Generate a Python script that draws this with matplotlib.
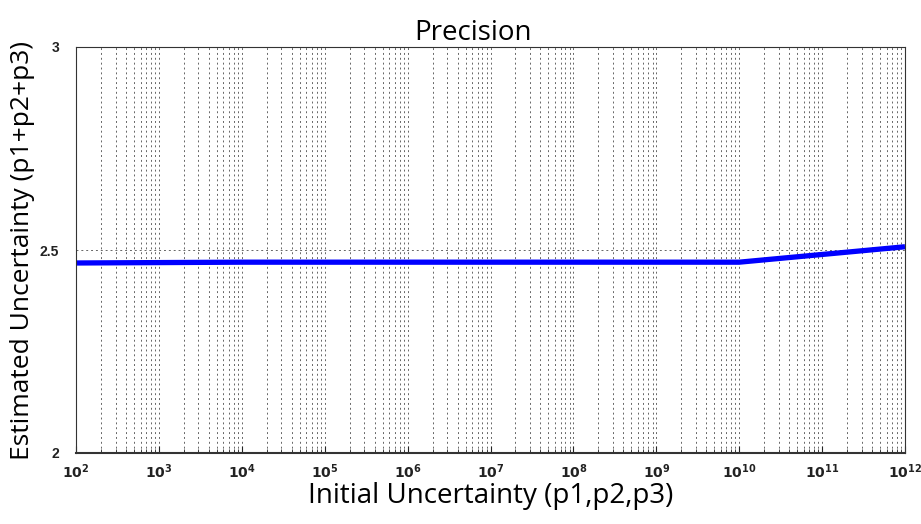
import matplotlib
matplotlib.use("Agg")
import matplotlib.pyplot as plt
import numpy as np

# initial uncertainty (x) and estimated uncertainty sum (y), read per decade
initial_unc = [1e2, 1e3, 1e4, 1e5, 1e6, 1e7, 1e8, 1e9, 1e10, 1e11, 1e12]
estimated_unc = [2.468, 2.469, 2.470, 2.470, 2.470, 2.470, 2.470, 2.470, 2.470, 2.489, 2.508]
y_ticks = [2, 2.5, 3]

fig = plt.figure(figsize=(9.21, 5.24), dpi=100)
ax = fig.add_axes([76 / 921, 1 - 453 / 524, (905 - 76) / 921, (453 - 47) / 524])

ax.plot(initial_unc, estimated_unc, color="#0000ff", linewidth=3.8, solid_capstyle="butt")
ax.set_xscale("log")
ax.set_xlim(1e2, 1e12)
ax.set_ylim(2, 3)
ax.set_yticks(y_ticks)
ax.set_yticklabels(["2", "2.5", "3"])
ax.set_xticks(initial_unc)
ax.set_xticklabels([f"$\\mathbf{{10^{{{int(np.log10(v))}}}}}$" for v in initial_unc])

ax.xaxis.set_minor_locator(matplotlib.ticker.LogLocator(base=10, subs=np.arange(2, 10), numticks=100))
ax.xaxis.set_minor_formatter(matplotlib.ticker.NullFormatter())
ax.grid(True, which="both", axis="x", linestyle=(0, (2, 3)), color="#666666", linewidth=0.7)
ax.grid(True, which="major", axis="y", linestyle=(0, (2, 3)), color="#666666", linewidth=0.7)
ax.tick_params(axis="both", which="both", direction="in", labelsize=10, colors="#222222")
ax.tick_params(axis="x", which="major", length=5, pad=7)
ax.tick_params(axis="x", which="minor", length=3)
ax.tick_params(axis="y", which="major", length=0, pad=12)
for lbl in ax.get_yticklabels():
    lbl.set_fontweight("bold")
    lbl.set_family("Liberation Sans")
for s in ax.spines.values():
    s.set_color("#333333")
    s.set_linewidth(0.8)
ax.spines["bottom"].set_linewidth(1.5)

ax.set_title("Precision", fontsize=20, family="Open Sans", pad=2, x=(473 - 76) / 829)
ax.set_xlabel("Initial Uncertainty (p1,p2,p3)", fontsize=20, family="Open Sans")
ax.xaxis.set_label_coords(0.5, -0.072)
ax.set_ylabel("Estimated Uncertainty (p1+p2+p3)", fontsize=19, family="Open Sans")
ax.yaxis.set_label_coords(-0.05, 0.5)

fig.savefig("out.png", dpi=100)
